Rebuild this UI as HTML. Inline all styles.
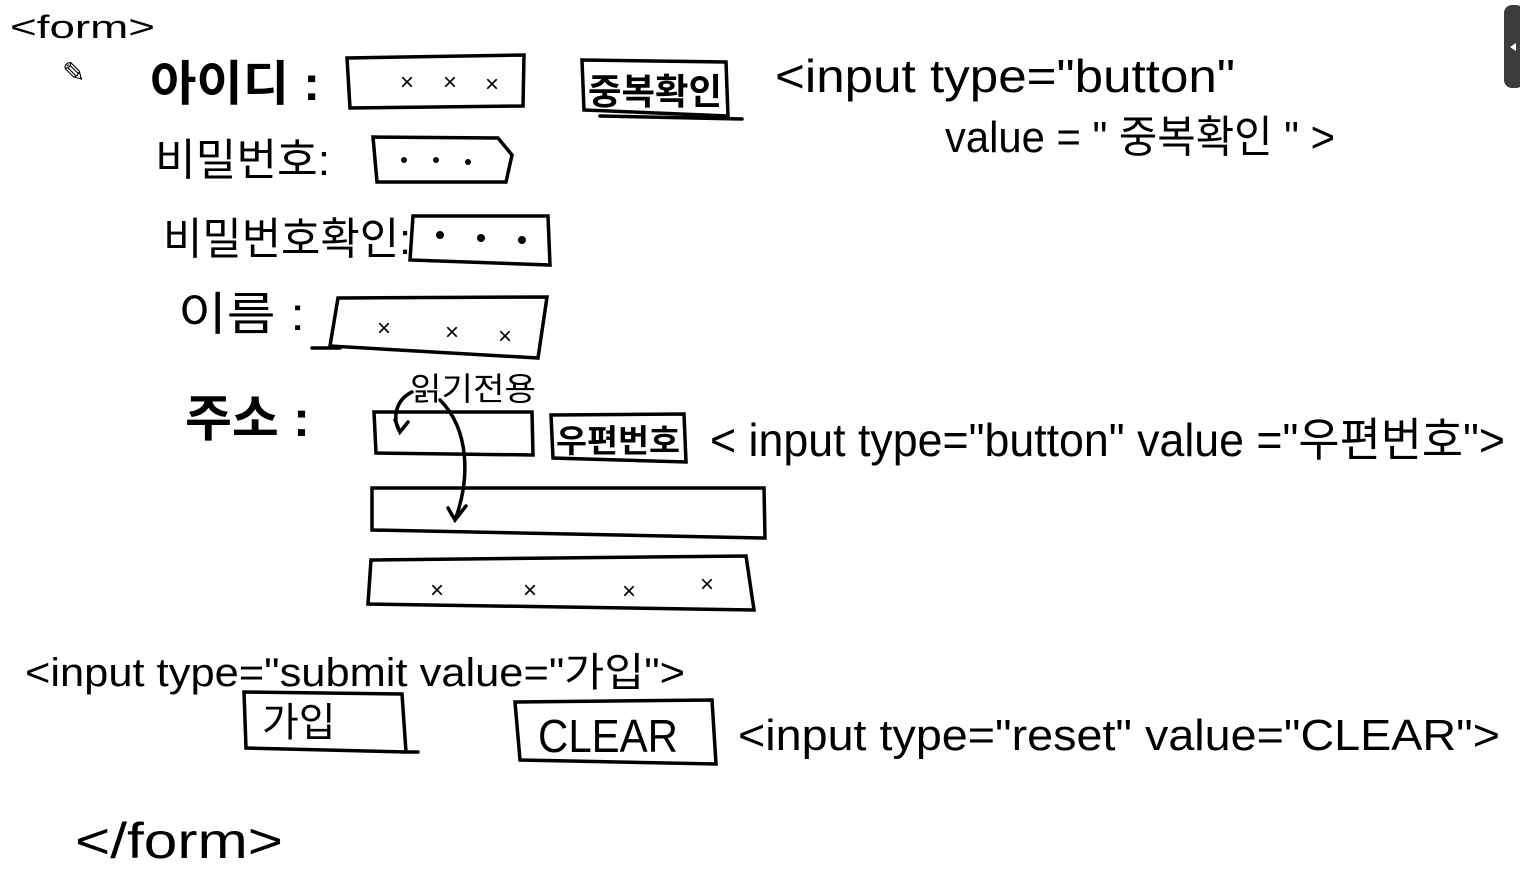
<!DOCTYPE html>
<html><head><meta charset="utf-8"><style>
html,body{margin:0;padding:0;background:#fff;width:1520px;height:870px;overflow:hidden}
svg{display:block}
text{font-family:"Liberation Sans","Noto Sans CJK KR","NanumGothic",sans-serif;fill:#000}
</style></head><body>
<svg width="1520" height="870" viewBox="0 0 1520 870">
<g fill="none" stroke="#000" stroke-width="3.5" stroke-linecap="round">
<path d="M347 58 L524 55 L523 106 L350 108 Z"/>
<path d="M582 60 L726 62 L728 116 L584 110 Z M600 116 L742 119"/>
<path d="M373 137 L498 138 L512 155 L506 182 L377 182 Z"/>
<path d="M413 216 L548 216 L550 265 L410 260 Z"/>
<path d="M338 298 L547 297 L538 358 L330 346 Z M312 348 L340 348"/>
<path d="M374 412 L532 412 L533 455 L376 453 Z"/>
<path d="M551 415 L684 414 L686 462 L553 458 Z"/>
<path d="M372 488 L764 488 L765 538 L372 530 Z"/>
<path d="M371 560 L746 556 L754 610 L368 604 Z"/>
<path d="M244 692 L402 694 L406 752 L246 748 Z M402 752 L418 752"/>
<path d="M515 702 L712 700 L716 764 L520 760 Z"/>
<path d="M412 392 C395 400 392 420 400 432 M440 400 C470 430 470 480 455 520 M448 508 L455 520 L466 506"/>
<path d="M395 420 L400 432 L408 422"/>
</g>
<g fill="#000">
<circle cx="404" cy="160" r="3"/><circle cx="436" cy="160" r="3"/><circle cx="468" cy="162" r="3"/>
<circle cx="440" cy="235" r="4"/><circle cx="481" cy="238" r="4"/><circle cx="522" cy="240" r="4"/>
</g>
<g font-size="24">
<text x="400" y="90">×</text><text x="443" y="90">×</text><text x="485" y="92">×</text>
<text x="377" y="336">×</text><text x="445" y="340">×</text><text x="498" y="344">×</text>
<text x="430" y="598">×</text><text x="523" y="598">×</text><text x="622" y="599">×</text><text x="700" y="592">×</text>
</g>
<text x="10" y="38" font-size="32" textLength="145" lengthAdjust="spacingAndGlyphs">&lt;form&gt;</text>
<text x="62" y="82" font-size="28">✎</text>
<text x="150" y="100" font-size="48" font-weight="bold" textLength="170" lengthAdjust="spacingAndGlyphs">아이디 :</text>
<text x="588" y="104" font-size="36" font-weight="bold" textLength="134" lengthAdjust="spacingAndGlyphs">중복확인</text>
<text x="775" y="92" font-size="46" textLength="460" lengthAdjust="spacingAndGlyphs">&lt;input  type="button"</text>
<text x="945" y="152" font-size="44" textLength="390" lengthAdjust="spacingAndGlyphs">value = " 중복확인 " &gt;</text>
<text x="155" y="175" font-size="44" textLength="175" lengthAdjust="spacingAndGlyphs">비밀번호:</text>
<text x="163" y="254" font-size="44" textLength="248" lengthAdjust="spacingAndGlyphs">비밀번호확인:</text>
<text x="178" y="330" font-size="46" textLength="127" lengthAdjust="spacingAndGlyphs">이름 :</text>
<text x="185" y="436" font-size="50" font-weight="bold" textLength="125" lengthAdjust="spacingAndGlyphs">주소 :</text>
<text x="410" y="400" font-size="32" textLength="126" lengthAdjust="spacingAndGlyphs">읽기전용</text>
<text x="556" y="452" font-size="32" font-weight="bold" textLength="124" lengthAdjust="spacingAndGlyphs">우편번호</text>
<text x="710" y="456" font-size="46" textLength="795" lengthAdjust="spacingAndGlyphs">&lt; input  type="button" value ="우편번호"&gt;</text>
<text x="25" y="686" font-size="40" textLength="660" lengthAdjust="spacingAndGlyphs">&lt;input type="submit value="가입"&gt;</text>
<text x="262" y="736" font-size="40">가입</text>
<text x="538" y="752" font-size="46" textLength="140" lengthAdjust="spacingAndGlyphs">CLEAR</text>
<text x="738" y="750" font-size="44" textLength="762" lengthAdjust="spacingAndGlyphs">&lt;input  type="reset"  value="CLEAR"&gt;</text>
<text x="75" y="858" font-size="50" textLength="208" lengthAdjust="spacingAndGlyphs">&lt;/form&gt;</text>
<rect x="1504" y="5" width="20" height="83" rx="8" fill="#3c3c3c"/>
<path d="M1516 43 L1510 47 L1516 51 Z" fill="#fff"/>
</svg>
</body></html>
